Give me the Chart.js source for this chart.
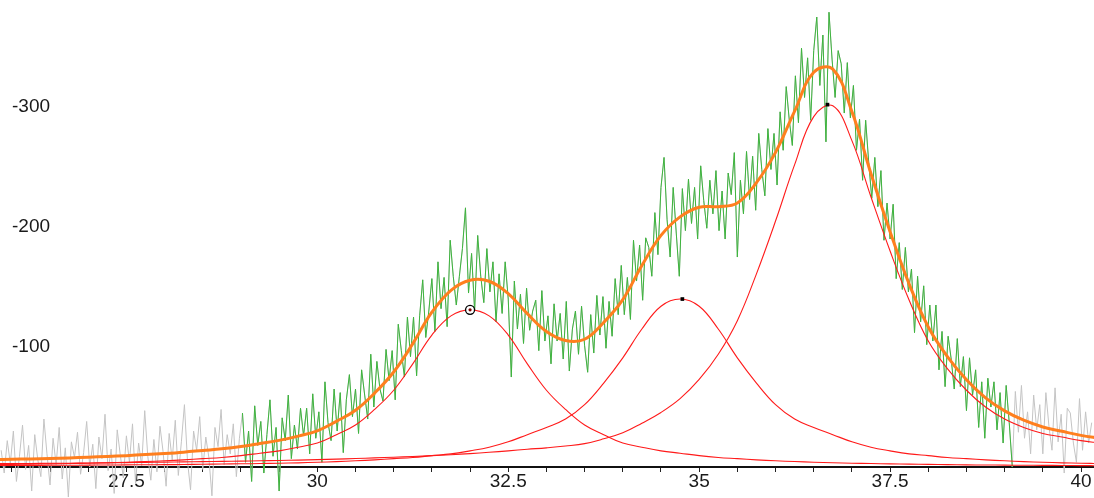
<!DOCTYPE html>
<html><head><meta charset="utf-8">
<script src="https://cdn.jsdelivr.net/npm/chart.js@4.4.1/dist/chart.umd.min.js"></script>
<style>html,body{margin:0;padding:0;background:#fff;overflow:hidden}canvas{display:block}</style>
</head><body>
<canvas id="c" width="1094" height="498"></canvas>
<script>
// ---- axis ticks ----
const xTickValues = [26,26.5,27,27.5,28,28.5,29,29.5,30,30.5,31,31.5,32,32.5,33,33.5,34,34.5,35,35.5,36,36.5,37,37.5,38,38.5,39,39.5,40];
const xLabelValues = [27.5,30,32.5,35,37.5,40];
const xTickLabels = ['27.5','30','32.5','35','37.5','40'];
const yTickValues = [100,200,300];
const yTickLabels = ['-100','-200','-300'];

// ---- fitted curves (sampled every 0.25) ----
const curveX = [25.75,26,26.25,26.5,26.75,27,27.25,27.5,27.75,28,28.25,28.5,28.75,29,29.25,29.5,29.75,30,30.25,30.5,30.75,31,31.25,31.5,31.75,32,32.25,32.5,32.75,33,33.25,33.5,33.75,34,34.25,34.5,34.75,35,35.25,35.5,35.75,36,36.25,36.5,36.75,37,37.25,37.5,37.75,38,38.25,38.5,38.75,39,39.25,39.5,39.75,40,40.25];
const peak1 = [2.0,2.2,2.4,2.6,2.9,3.2,3.6,4,4.6,5.2,6,7,8,9.5,11.5,13.5,16.5,20,27,35,48,64,86,110,126,131,126,110,86,64,48,35,27,20,16.5,13.5,11.5,9.5,8,7,6,5.2,4.6,4,3.6,3.2,2.9,2.6,2.4,2.2,2.0,1.8,1.7,1.6,1.5,1.4,1.3,1.2,1.1];
const peak2 = [1.3,1.35,1.4,1.45,1.5,1.6,1.7,1.8,1.9,2.0,2.1,2.3,2.5,2.7,2.9,3.2,3.5,4,4.5,5.2,6,7,8,9.5,11,13.5,16.5,21,27,33,40,52,70,91,115,134,140,134,115,91,70,52,40,33,27,21,16.5,13.5,11,9.5,8,7,6,5.2,4.5,4,3.5,3.2,2.9];
const peak3 = [2.8,2.9,3.0,3.1,3.2,3.4,3.5,3.7,3.9,4.1,4.3,4.5,4.7,4.9,5.2,5.5,5.8,6.2,6.6,7.1,7.6,8.2,8.8,9.5,10.3,11.2,12.3,13.5,14.8,16,17.5,19.5,23.5,28.5,36.5,45.5,57,73,94,122,161,205,252,292,301,272,225,180,139,105,82,64,50,40,33,28,25,22,20];
const fitTotal = [6.1,6.45,6.8,7.15,7.6,8.2,8.8,9.5,10.4,11.3,12.4,13.8,15.2,17.1,19.6,22.2,25.8,30.2,38.1,47.3,61.6,79.2,102.8,129,147.3,155.7,154.8,144.5,127.8,113,105.5,106.5,120.5,139.5,168,193,208.5,216.5,217,220,237,262.2,296.6,329,331.6,296.2,244.4,196.1,152.4,116.7,92,72.8,57.7,46.8,39,33.4,29.8,26.4,24];

// ---- peak markers ----
const peakX = [32.0, 34.78, 36.68];
const peakY = [131, 140, 302];

// ---- measured counts (from 25.86, step 0.04) ----
const rawStart = 25.86, rawStep = 0.04;
const counts = [
14,-5,22,3,30,-12,9,35,-2,18,-20,27,6,-8,40,11,-15,24,2,33,-10,16,-25,21,8,
29,-6,12,38,0,19,-18,25,7,44,-3,15,-22,31,10,-9,26,4,36,-14,20,1,47,9,-11,
23,-4,34,13,-16,28,6,39,-7,21,52,5,-19,30,14,42,-2,25,8,-24,33,17,48,2,27,
11,36,-8,24,45,4,30,-12,51,18,38,-5,27,56,9,33,-20,41,22,60,7,35,15,49,26,
49,11,61,24,46,4,71,37,22,65,30,62,12,56,77,42,65,28,81,60,40,94,50,88,65,
55,98,72,97,56,119,97,75,125,92,125,76,126,156,108,130,157,113,171,132,158,117,189,159,135,
159,182,216,145,178,130,193,159,137,182,146,171,121,161,128,171,140,75,155,115,144,103,149,114,130,
139,97,147,105,126,86,136,105,128,90,138,80,115,130,94,134,101,79,127,95,143,110,142,99,138,
109,157,127,168,127,158,123,189,155,185,139,191,183,159,212,177,233,258,206,175,233,195,159,232,197,
240,203,233,190,251,222,199,239,211,247,197,230,190,245,227,262,175,239,211,263,223,259,214,278,248,
226,282,248,278,235,296,264,317,289,268,326,287,349,308,341,289,347,375,318,360,271,379,340,308,347,
336,295,337,291,318,264,290,239,289,254,224,258,217,247,189,220,190,219,157,187,148,183,146,165,112,
159,121,151,102,135,105,135,81,113,67,109,90,65,107,67,92,47,91,60,81,33,71,24,74,50,
71,31,62,20,68,37,0,63,29,68,24,46,11,60,31,52,11,62,34,14,66,21,44,-5,49,
45,20,4,57,14,46,20,37
];
const fitRangeFirst = 79, fitRangeLast = 331;

const pts = (xs, ys) => ys.map((y, i) => ({x: xs[i], y}));
const rawX = counts.map((_, i) => +(rawStart + i * rawStep).toFixed(2));
const rawPts = pts(rawX, counts);
const fitPts = rawPts.slice(fitRangeFirst, fitRangeLast + 1);

const FONT = {family: "'Liberation Sans', Arial, sans-serif", size: 19};
const lineBase = {pointRadius: 0, pointHoverRadius: 0, fill: false};
const noSpace = s => { s.paddingLeft = 0; s.paddingRight = 0; s.paddingTop = 0; s.paddingBottom = 0; };

new Chart(document.getElementById('c'), {
  type: 'line',
  data: {
    datasets: [
      {...lineBase, order: 0, showLine: false, data: [{x: peakX[0], y: peakY[0]}], pointStyle: 'circle', pointRadius: 4.5, pointBorderWidth: 1.3, pointBorderColor: '#000', pointBackgroundColor: '#fff'},
      {...lineBase, order: -1, showLine: false, data: [{x: peakX[0], y: peakY[0]}], pointStyle: 'circle', pointRadius: 1.6, pointBorderWidth: 0, pointBackgroundColor: '#7a0000'},
      {...lineBase, order: 0, showLine: false, data: pts(peakX.slice(1), peakY.slice(1)), pointStyle: 'rect', pointRadius: 2.6, pointBorderWidth: 0, pointBackgroundColor: '#000'},
      {...lineBase, order: 1, data: pts(curveX, fitTotal), borderColor: '#ff7f1e', borderWidth: 3, tension: 0.4},
      {...lineBase, order: 2, data: pts(curveX, peak1), borderColor: '#ff1a1a', borderWidth: 1.1, tension: 0.4},
      {...lineBase, order: 2, data: pts(curveX, peak2), borderColor: '#ff1a1a', borderWidth: 1.1, tension: 0.4},
      {...lineBase, order: 2, data: pts(curveX, peak3), borderColor: '#ff1a1a', borderWidth: 1.1, tension: 0.4},
      {...lineBase, order: 3, data: fitPts, borderColor: '#3cb43c', borderWidth: 1, tension: 0},
      {...lineBase, order: 4, data: rawPts, borderColor: '#c4c4c4', borderWidth: 1, tension: 0}
    ]
  },
  options: {
    responsive: false,
    animation: false,
    devicePixelRatio: 1,
    layout: {padding: 0, autoPadding: false},
    plugins: {legend: {display: false}, tooltip: {enabled: false}},
    scales: {
      x: {
        type: 'linear', min: 25.845, max: 40.17,
        position: {y: 0},
        afterFit: s => { s.height = 0; noSpace(s); },
        afterBuildTicks: s => { s.ticks = xTickValues.map(v => ({value: v})); },
        grid: {display: true, drawOnChartArea: false, drawTicks: true, tickLength: 4, color: '#222', lineWidth: 1},
        border: {display: true, color: '#111', width: 2},
        ticks: {
          autoSkip: false, maxRotation: 0, padding: -1, color: '#1a1a1a', font: FONT,
          callback: v => { const k = xLabelValues.findIndex(t => Math.abs(t - v) < 1e-6); return k >= 0 ? xTickLabels[k] : ''; }
        }
      },
      y: {
        type: 'linear', min: -25.8, max: 389.2,
        position: 'left',
        afterFit: s => { s.width = 0; noSpace(s); },
        afterBuildTicks: s => { s.ticks = yTickValues.map(v => ({value: v})); },
        grid: {display: false},
        border: {display: false},
        ticks: {
          mirror: true, padding: 12, color: '#1a1a1a', font: FONT,
          callback: v => { const k = yTickValues.indexOf(v); return k >= 0 ? yTickLabels[k] : ''; }
        }
      }
    }
  }
});
</script>
</body></html>
